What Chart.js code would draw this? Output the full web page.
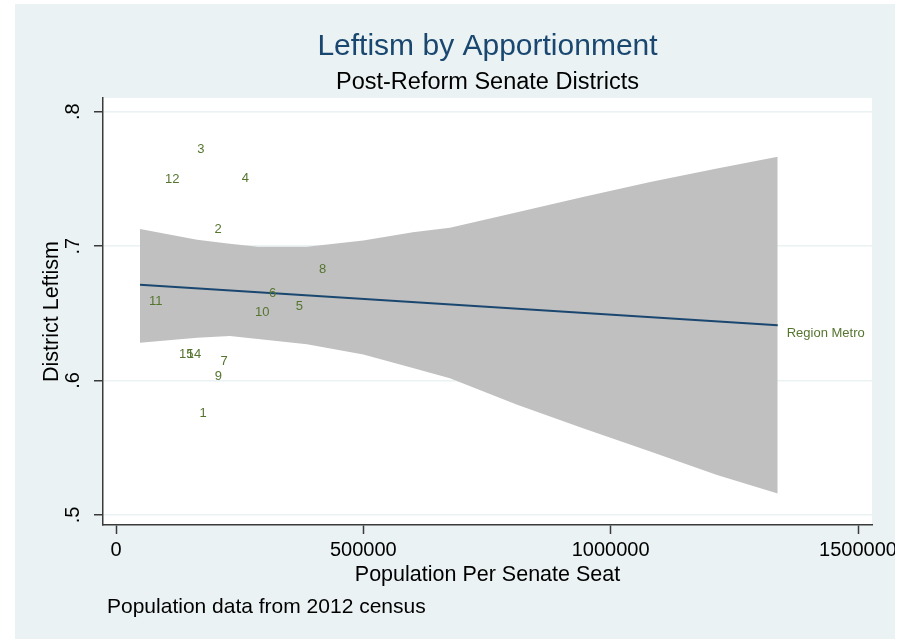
<!DOCTYPE html>
<html>
<head>
<meta charset="utf-8">
<title>Leftism by Apportionment</title>
<script src="https://cdn.jsdelivr.net/npm/chart.js@4.4.1/dist/chart.umd.min.js"></script>
<style>
  html, body { margin: 0; padding: 0; background: #fff; }
</style>
</head>
<body>
<canvas id="chart" width="913" height="639"></canvas>
<script>
// districts (label shown to the right of each point)
const districtLabels = ['1', '2', '3', '4', '5', '6', '7', '8', '9', '10', '11', '12', '15', '14', 'Region Metro'];
const districtPop = [150500, 181000, 146000, 236000, 345000, 291000, 193000, 392000, 181500, 263000, 48500, 81000, 109000, 125000, 1337700];
const districtLeftism = [0.5757, 0.7123, 0.7721, 0.7507, 0.655, 0.665, 0.6139, 0.6826, 0.6029, 0.651, 0.6587, 0.7497, 0.6191, 0.6194, 0.635];

// confidence band
const bandPop = [48500, 164000, 230000, 287000, 386000, 500000, 600000, 675000, 811000, 944000, 1080000, 1215000, 1337700];
const bandUpper = [0.7128, 0.7048, 0.7018, 0.6996, 0.6996, 0.7041, 0.7103, 0.7136, 0.7252, 0.7365, 0.7477, 0.7577, 0.7664];
const bandLower = [0.6281, 0.6318, 0.6331, 0.6308, 0.6269, 0.6194, 0.6094, 0.6017, 0.582, 0.5645, 0.5471, 0.5297, 0.5159];

// fitted line
const fitPop = [48500, 1337700];
const fitLeftism = [0.6712, 0.6411];

const xTicks = [0, 500000, 1000000, 1500000];
const xTickLabels = ['0', '500000', '1000000', '1500000'];
const yTicks = [0.5, 0.6, 0.7, 0.8];
const yTickLabels = ['.5', '.6', '.7', '.8'];

const FONT = "'Liberation Sans', Arial, Helvetica, sans-serif";
const BG = '#eaf2f3';
const AXIS = '#3a3a3a';

Chart.defaults.font.family = FONT;
Chart.defaults.color = '#000';

const toPoints = (xs, ys) => xs.map((x, i) => ({ x: x, y: ys[i] }));

const backgroundPlugin = {
  id: 'background',
  beforeDraw(chart) {
    const { ctx, chartArea } = chart;
    ctx.save();
    ctx.fillStyle = '#fff';
    ctx.fillRect(0, 0, chart.width, chart.height);
    ctx.fillStyle = BG;
    ctx.fillRect(15, 4, 880, 635);
    ctx.fillStyle = '#fff';
    ctx.fillRect(chartArea.left, chartArea.top, chartArea.right - chartArea.left, chartArea.bottom - chartArea.top);
    ctx.restore();
  }
};

const markerLabelPlugin = {
  id: 'markerLabels',
  afterDatasetsDraw(chart) {
    const { ctx } = chart;
    const meta = chart.getDatasetMeta(3);
    ctx.save();
    ctx.font = '13px ' + FONT;
    ctx.fillStyle = '#55752f';
    ctx.textAlign = 'left';
    ctx.textBaseline = 'middle';
    meta.data.forEach((pt, i) => {
      ctx.fillText(districtLabels[i], pt.x + 9, pt.y);
    });
    ctx.restore();
  }
};

const textPlugin = {
  id: 'texts',
  afterDraw(chart) {
    const { ctx, chartArea } = chart;
    const cx = (chartArea.left + chartArea.right) / 2;
    ctx.save();
    ctx.textAlign = 'center';
    ctx.textBaseline = 'alphabetic';
    ctx.fillStyle = '#1a476f';
    ctx.font = '30px ' + FONT;
    ctx.fillText('Leftism by Apportionment', cx, 55);
    ctx.fillStyle = '#000';
    ctx.font = '23.5px ' + FONT;
    ctx.fillText('Post-Reform Senate Districts', cx, 89);
    ctx.textAlign = 'left';
    ctx.font = '21px ' + FONT;
    ctx.fillText('Population data from 2012 census', 107, 613);
    // the graph region ends at x = 895, the last tick label runs past it
    ctx.fillStyle = '#fff';
    ctx.fillRect(895, 0, chart.width - 895, chart.height);
    ctx.restore();
  }
};

new Chart(document.getElementById('chart'), {
  type: 'scatter',
  data: {
    datasets: [
      {
        label: 'upper',
        data: toPoints(bandPop, bandUpper),
        showLine: true,
        borderWidth: 0,
        borderColor: 'rgba(0,0,0,0)',
        backgroundColor: '#c0c0c0',
        pointRadius: 0,
        fill: '+1',
        order: 3
      },
      {
        label: 'lower',
        data: toPoints(bandPop, bandLower),
        showLine: true,
        borderWidth: 0,
        borderColor: 'rgba(0,0,0,0)',
        pointRadius: 0,
        fill: false,
        order: 3
      },
      {
        label: 'fit',
        data: toPoints(fitPop, fitLeftism),
        showLine: true,
        borderColor: '#1a476f',
        borderWidth: 2,
        pointRadius: 0,
        fill: false,
        order: 1
      },
      {
        label: 'districts',
        data: toPoints(districtPop, districtLeftism),
        pointRadius: 0,
        pointHoverRadius: 0,
        order: 0
      }
    ]
  },
  options: {
    responsive: false,
    animation: false,
    layout: { padding: { top: 98, right: 41, bottom: 0, left: 0 } },
    plugins: {
      legend: { display: false },
      tooltip: { enabled: false }
    },
    scales: {
      x: {
        type: 'linear',
        min: -26300,
        max: 1528300,
        afterBuildTicks: (scale) => { scale.ticks = xTicks.map(v => ({ value: v })); },
        afterFit: (scale) => { scale.height = 114; },
        ticks: {
          callback: (v, i) => xTickLabels[i],
          font: { size: 20 },
          padding: 4,
          maxRotation: 0
        },
        grid: {
          drawOnChartArea: false,
          tickLength: 9,
          tickColor: AXIS,
          tickWidth: 1.5
        },
        border: { display: true, color: AXIS, width: 1.5 },
        title: {
          display: true,
          text: 'Population Per Senate Seat',
          font: { size: 21.5 },
          padding: { top: 0, bottom: 51 }
        }
      },
      y: {
        type: 'linear',
        min: 0.4925,
        max: 0.8102,
        afterBuildTicks: (scale) => { scale.ticks = yTicks.map(v => ({ value: v })); },
        afterFit: (scale) => { scale.width = 103; },
        ticks: {
          callback: (v, i) => yTickLabels[i],
          font: { size: 20 },
          minRotation: 90,
          maxRotation: 90,
          crossAlign: 'center',
          padding: 12
        },
        grid: {
          color: BG,
          lineWidth: 1.5,
          tickLength: 9,
          tickColor: AXIS,
          tickWidth: 1.5
        },
        border: { display: true, color: AXIS, width: 1.5 },
        title: {
          display: true,
          text: 'District Leftism',
          font: { size: 21.5 },
          padding: { top: 39, bottom: 0 }
        }
      }
    }
  },
  plugins: [backgroundPlugin, markerLabelPlugin, textPlugin]
});
</script>
</body>
</html>
